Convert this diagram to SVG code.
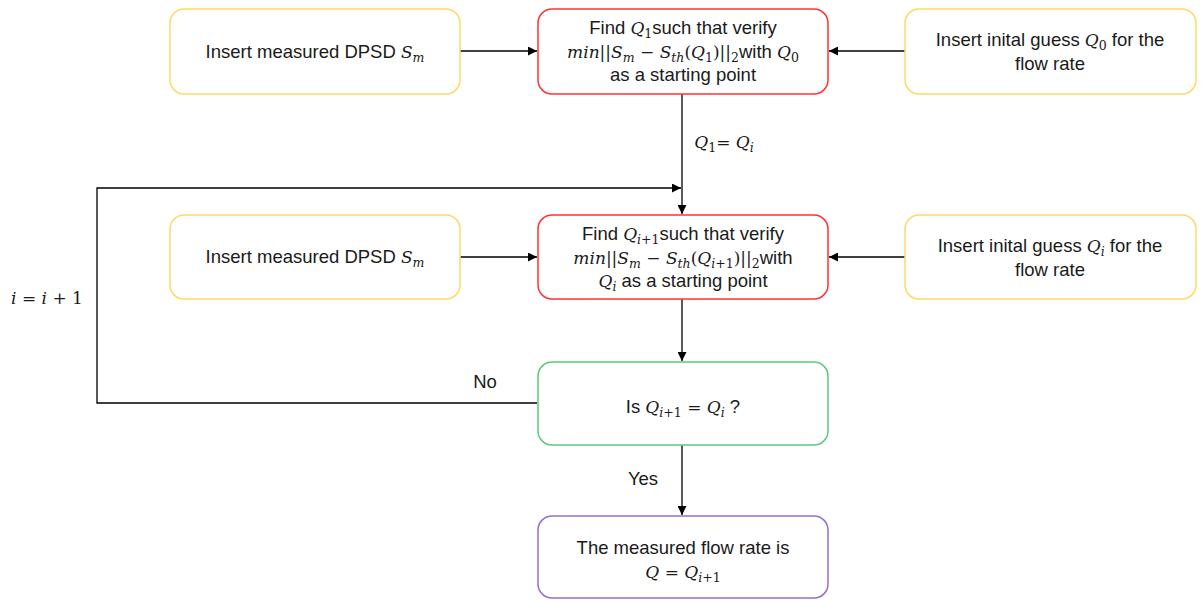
<svg xmlns="http://www.w3.org/2000/svg" width="1201" height="600" viewBox="0 0 1201 600">
<style>
.box{fill:#fff;stroke-width:1.5}
.y{stroke:#FFD966}
.r{stroke:#FF3333}
.g{stroke:#5DC97A}
.p{stroke:#9A6DC4}
.t{font-family:"Liberation Sans",Arial,sans-serif;font-size:18.5px;fill:#1a1a1a;text-anchor:middle}
.m{font-family:"DejaVu Serif","Liberation Serif",serif;font-style:italic;font-size:17px}
.n{font-family:"DejaVu Serif","Liberation Serif",serif;font-style:normal;font-size:17px}
.s{font-size:12.5px}
.c{fill:none;stroke:#000;stroke-width:1.3}
</style>
<defs>
<marker id="ah" viewBox="0 0 10 10" refX="10" refY="5" markerWidth="9" markerHeight="9" markerUnits="userSpaceOnUse" orient="auto">
<path d="M0,0 L10,5 L0,10 z" fill="#000"/>
</marker>
</defs>
<rect width="1201" height="600" fill="#fff"/>
<g id="connectors">
<path class="c" d="M460,51 H537" marker-end="url(#ah)"/>
<path class="c" d="M905,51 H829" marker-end="url(#ah)"/>
<path class="c" d="M682,94 V214" marker-end="url(#ah)"/>
<path class="c" d="M537,403 H97 V188 H681" marker-end="url(#ah)"/>
<path class="c" d="M460,257 H537" marker-end="url(#ah)"/>
<path class="c" d="M905,257 H829" marker-end="url(#ah)"/>
<path class="c" d="M682,299 V361" marker-end="url(#ah)"/>
<path class="c" d="M682,445 V515" marker-end="url(#ah)"/>
<text class="t" x="724" y="148" text-anchor="middle"><tspan class="m">Q</tspan><tspan class="n s" dy="4">1</tspan><tspan class="n" dy="-4">= </tspan><tspan class="m">Q</tspan><tspan class="m s" dy="4">i</tspan></text>
<text class="t" x="485" y="388">No</text>
<text class="t" x="643" y="485">Yes</text>
<text class="t" x="47" y="304"><tspan class="m">i</tspan><tspan class="n"> = </tspan><tspan class="m">i</tspan><tspan class="n"> + 1</tspan></text>
</g>
<g id="n1">
<rect class="box y" x="170" y="9" width="290" height="85" rx="14"/>
<text class="t" x="315" y="58">Insert measured DPSD <tspan class="m">S</tspan><tspan class="m s" dy="4">m</tspan></text>
</g>
<g id="n2">
<rect class="box r" x="538" y="9" width="290" height="85" rx="14"/>
<text class="t" x="683" y="34">Find <tspan class="m">Q</tspan><tspan class="n s" dy="4">1</tspan><tspan dy="-4">such that verify</tspan></text>
<text class="t" x="683" y="58"><tspan class="m">min</tspan><tspan class="n">||</tspan><tspan class="m">S</tspan><tspan class="m s" dy="4">m</tspan><tspan class="n" dy="-4"> − </tspan><tspan class="m">S</tspan><tspan class="m s" dy="4">th</tspan><tspan class="n" dy="-4">(</tspan><tspan class="m">Q</tspan><tspan class="n s" dy="4">1</tspan><tspan class="n" dy="-4">)||</tspan><tspan class="n s" dy="4">2</tspan><tspan dy="-4">with  </tspan><tspan class="m">Q</tspan><tspan class="n s" dy="4">0</tspan></text>
<text class="t" x="683" y="81">as a starting point</text>
</g>
<g id="n3">
<rect class="box y" x="905" y="9" width="291" height="85" rx="14"/>
<text class="t" x="1050" y="46">Insert inital guess <tspan class="m">Q</tspan><tspan class="n s" dy="4">0</tspan><tspan dy="-4"> for the</tspan></text>
<text class="t" x="1050" y="70">flow rate</text>
</g>
<g id="n4">
<rect class="box y" x="170" y="215" width="290" height="84" rx="14"/>
<text class="t" x="315" y="263">Insert measured DPSD <tspan class="m">S</tspan><tspan class="m s" dy="4">m</tspan></text>
</g>
<g id="n5">
<rect class="box r" x="538" y="215" width="290" height="84" rx="14"/>
<text class="t" x="683" y="240">Find <tspan class="m">Q</tspan><tspan class="m s" dy="4">i</tspan><tspan class="n s">+1</tspan><tspan dy="-4">such that verify</tspan></text>
<text class="t" x="683" y="264"><tspan class="m">min</tspan><tspan class="n">||</tspan><tspan class="m">S</tspan><tspan class="m s" dy="4">m</tspan><tspan class="n" dy="-4"> − </tspan><tspan class="m">S</tspan><tspan class="m s" dy="4">th</tspan><tspan class="n" dy="-4">(</tspan><tspan class="m">Q</tspan><tspan class="m s" dy="4">i</tspan><tspan class="n s">+1</tspan><tspan class="n" dy="-4">)||</tspan><tspan class="n s" dy="4">2</tspan><tspan dy="-4">with</tspan></text>
<text class="t" x="683" y="287"><tspan class="m">Q</tspan><tspan class="m s" dy="4">i</tspan><tspan dy="-4"> as a starting point</tspan></text>
</g>
<g id="n6">
<rect class="box y" x="905" y="215" width="291" height="84" rx="14"/>
<text class="t" x="1050" y="252">Insert inital guess <tspan class="m">Q</tspan><tspan class="m s" dy="4">i</tspan><tspan dy="-4"> for the</tspan></text>
<text class="t" x="1050" y="276">flow rate</text>
</g>
<g id="n7">
<rect class="box g" x="538" y="362" width="290" height="83" rx="14"/>
<text class="t" x="683" y="413">Is <tspan class="m">Q</tspan><tspan class="m s" dy="4">i</tspan><tspan class="n s">+1</tspan><tspan class="n" dy="-4"> = </tspan><tspan class="m">Q</tspan><tspan class="m s" dy="4">i</tspan><tspan dy="-4"> ?</tspan></text>
</g>
<g id="n8">
<rect class="box p" x="538" y="516" width="290" height="82" rx="14"/>
<text class="t" x="683" y="554">The measured flow rate is</text>
<text class="t" x="683" y="578"><tspan class="m">Q</tspan><tspan class="n"> = </tspan><tspan class="m">Q</tspan><tspan class="m s" dy="4">i</tspan><tspan class="n s">+1</tspan></text>
</g>
</svg>
